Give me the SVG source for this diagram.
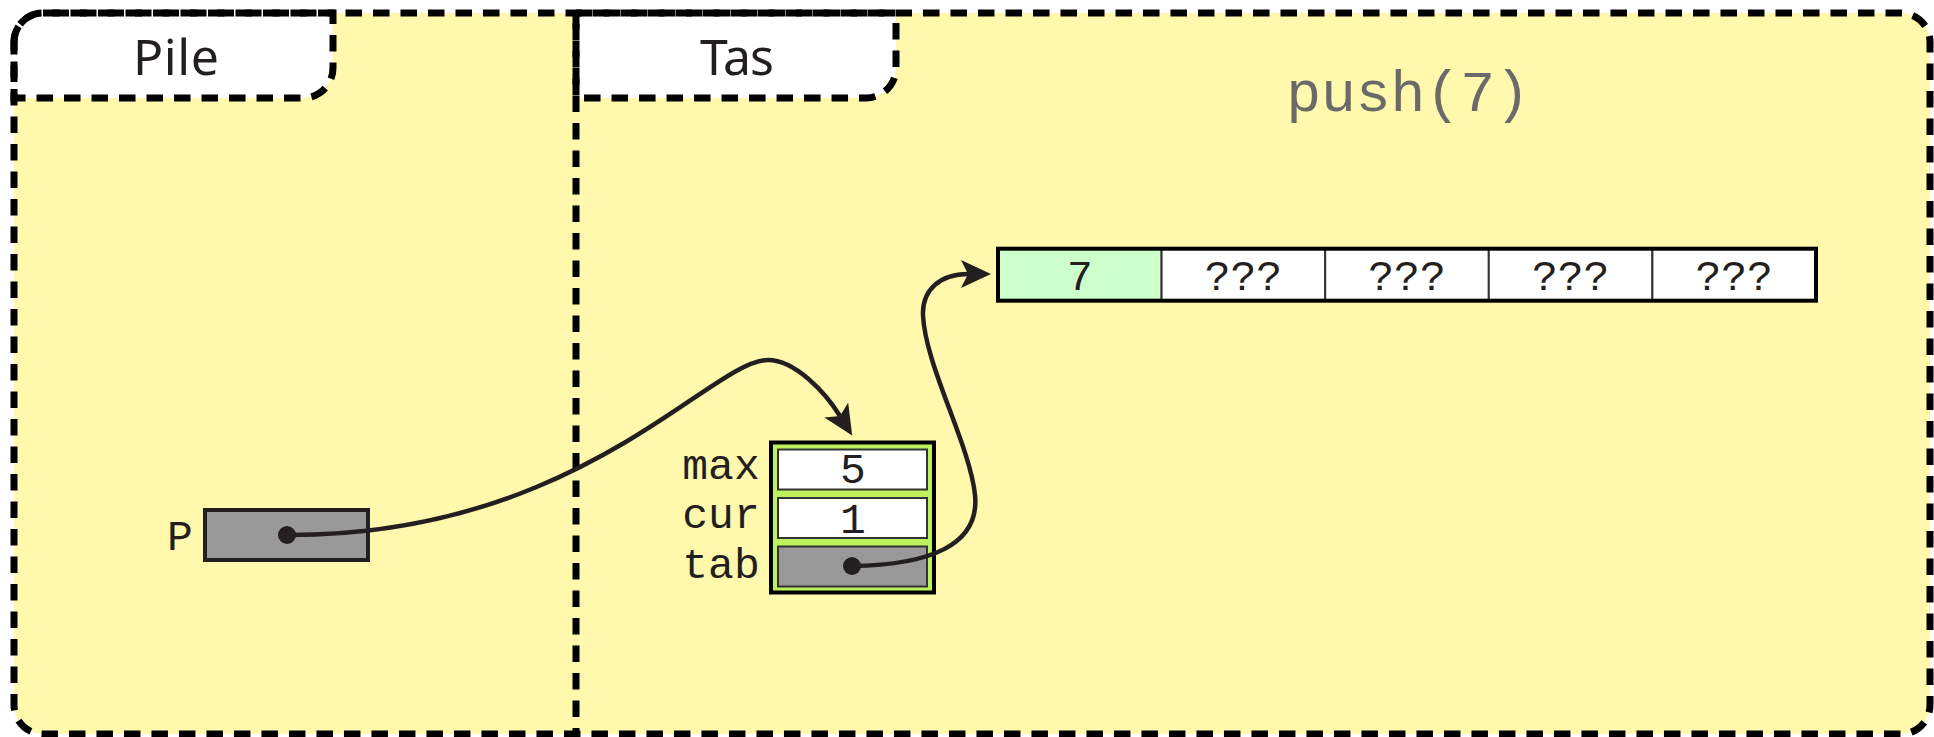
<svg xmlns="http://www.w3.org/2000/svg" width="1934" height="737" viewBox="0 0 1934 737">
<style>
.dash{fill:none;stroke:#000;stroke-width:7;stroke-dasharray:16.5 11}
.tab{fill:#fff;stroke:#000;stroke-width:7;stroke-dasharray:16.5 11}
.title{font-family:"Noto Sans","Open Sans",sans-serif;font-size:50px;fill:#231f20;text-anchor:middle}
.mono{font-family:"Liberation Mono","Courier New",monospace;font-size:43px;fill:#231f20;text-anchor:middle}
.cell{fill:#fff;stroke:#333;stroke-width:2}
.ptr{fill:#999;stroke:#333;stroke-width:2}
.conn{fill:none;stroke:#231f20;stroke-width:4.5}
.dot{fill:#231f20}
</style>
<defs>
<marker id="arrow" markerUnits="userSpaceOnUse" markerWidth="32" markerHeight="30" viewBox="0 0 32 30" refX="7" refY="14" orient="auto">
<path d="M0,0 L30,14 L0,28 L7,14 z" fill="#231f20"/>
</marker>
</defs>
<g id="frame">
<rect x="14" y="13" width="1916" height="721" rx="29" ry="29" fill="#fff8ad"/>
</g>
<g id="pile-tab">
<path class="tab" d="M14,42 A29,29 0 0 1 43,13 L333,13 L333,68 A30,30 0 0 1 303,98 L14,98 Z"/>
<text class="title" x="176" y="75" textLength="86">Pile</text>
</g>
<g id="tas-tab">
<path class="tab" d="M576,13 L896,13 L896,68 A30,30 0 0 1 866,98 L576,98 Z"/>
<text class="title" x="737" y="75" textLength="74">Tas</text>
</g>
<g id="frame-outline">
<line class="dash" x1="576" y1="13" x2="576" y2="734"/>
<rect class="dash" x="14" y="13" width="1916" height="721" rx="29" ry="29"/>
</g>
<g id="title">
<text x="1408" y="111" font-family="Liberation Mono, Courier New, monospace" font-size="58" fill="#6a6a6a" text-anchor="middle">push(7)</text>
</g>
<g id="node-P">
<text class="mono" x="180" y="550">P</text>
<rect x="205" y="510" width="163" height="50" fill="#999" stroke="#231f20" stroke-width="4"/>
</g>
<g id="node-struct">
<rect x="771" y="442.5" width="163" height="150" fill="#bdf25e" stroke="#000" stroke-width="4"/>
<rect class="cell" x="778" y="449.5" width="149" height="40"/>
<rect class="cell" x="778" y="498" width="149" height="40"/>
<rect class="ptr" x="778" y="546.5" width="149" height="40"/>
<text class="mono" x="721" y="479">max</text>
<text class="mono" x="721" y="528">cur</text>
<text class="mono" x="721" y="578">tab</text>
<text class="mono" x="853" y="483">5</text>
<text class="mono" x="853" y="533">1</text>
</g>
<g id="node-array">
<rect x="998" y="248.7" width="163.6" height="52" fill="#ccffcc" stroke="#333" stroke-width="2"/>
<rect class="cell" x="1161.6" y="248.7" width="163.6" height="52"/>
<rect class="cell" x="1325.2" y="248.7" width="163.6" height="52"/>
<rect class="cell" x="1488.8" y="248.7" width="163.6" height="52"/>
<rect class="cell" x="1652.4" y="248.7" width="163.6" height="52"/>
<rect x="998" y="248.7" width="818" height="52" fill="none" stroke="#000" stroke-width="4"/>
<text class="mono" x="1079.8" y="290">7</text>
<text class="mono" x="1243.4" y="290">???</text>
<text class="mono" x="1407" y="290">???</text>
<text class="mono" x="1570.6" y="290">???</text>
<text class="mono" x="1734.2" y="290">???</text>
</g>
<g id="connectors">
<path class="conn" d="M287,535 C580,536 710,360 768,360 C795,360 825,392 840,416" marker-end="url(#arrow)"/>
<path class="conn" d="M852,566 C930,565 980,545 975,495 C970,445 925,365 923,315 C922,290 940,274 968,274" marker-end="url(#arrow)"/>
<circle class="dot" cx="287" cy="535" r="9"/>
<circle class="dot" cx="852" cy="566" r="9"/>
</g>
</svg>
